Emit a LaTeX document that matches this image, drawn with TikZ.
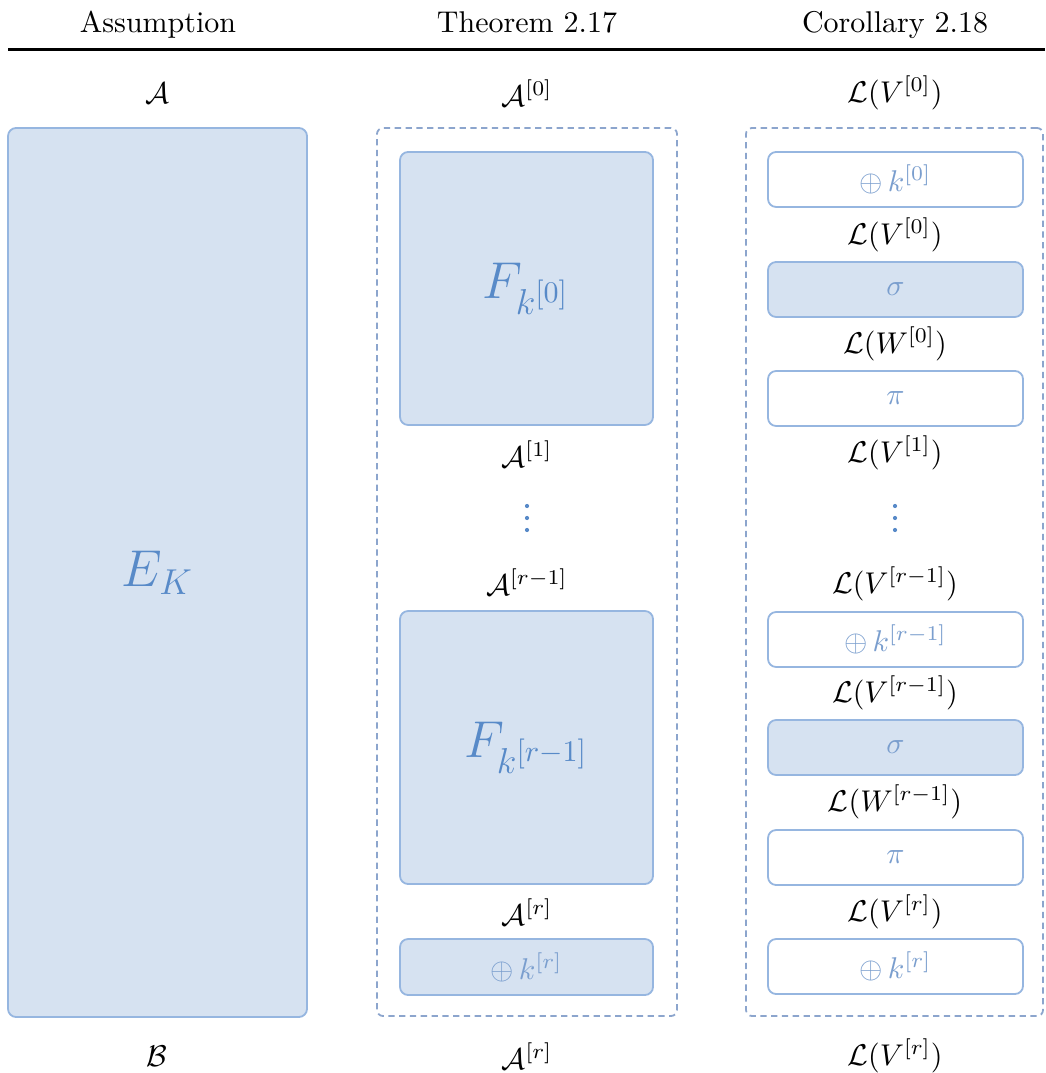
\documentclass[tikz,border=0pt]{standalone}
\usepackage{amsmath,amssymb}
\definecolor{boxfill}{RGB}{214,226,241}
\definecolor{boxline}{RGB}{150,182,224}
\definecolor{dashline}{RGB}{140,165,205}
\definecolor{txtblue}{RGB}{88,138,200}
\definecolor{txtlight}{RGB}{122,158,206}
\def\pxu{0.33333pt}
\begin{document}
\begin{tikzpicture}[x=0.33333pt,y=-0.33333pt,
  fbox/.style={draw=boxline, fill=boxfill, line width=0.6pt, rounded corners=2.7pt, inner sep=0pt, text=txtblue},
  wbox/.style={draw=boxline, fill=white, line width=0.6pt, rounded corners=2.7pt, inner sep=0pt, text=txtlight},
  sbox/.style={fbox, text=txtlight},
  dbox/.style={draw=dashline, dash pattern=on 2.1pt off 1.5pt, line width=0.6pt, rounded corners=2pt, inner sep=0pt},
  lab/.style={inner sep=0pt, text=black},
  hdr/.style={anchor=base, inner sep=0pt},
  dotc/.style={circle, fill=txtblue, inner sep=0pt, minimum size=4.2*\pxu}]
\useasboundingbox (0,0) rectangle (1045,1073);

% headers
\node[hdr] (h1) at (158,33) {Assumption};
\node[hdr] (h2) at (527,33) {Theorem 2.17};
\node[hdr] (h3) at (895,33) {Corollary 2.18};
\coordinate (rl) at (8,50);
\coordinate (rr) at (1045,50);
\draw[line width=1pt] (rl) -- (rr);

% top labels
\node[lab] (t1) at (157,93) {$\mathcal{A}$};
\node[lab] (t2) at (527,93) {$\mathcal{A}^{[0]}$};
\node[lab] (t3) at (895,93) {$\mathcal{L}(V^{[0]})$};

% column 1
\node[fbox, minimum width=299*\pxu, minimum height=889*\pxu] (EK) at (157.5,572.5) {\LARGE $E_K$};

% column 2
\node[dbox, minimum width=300*\pxu, minimum height=888*\pxu] (D2) at (527,572) {};
\node[fbox, minimum width=253*\pxu, minimum height=273*\pxu] (F0) at (526.5,288.5) {\LARGE $F_{k^{[0]}}$};
\node[lab] (m1) at (527,454) {$\mathcal{A}^{[1]}$};
\node[dotc] (m2a) at (527,506) {};
\node[dotc] (m2b) at (527,518) {};
\node[dotc] (m2c) at (527,530) {};
\node[lab] (m3) at (527,582) {$\mathcal{A}^{[r-1]}$};
\node[fbox, minimum width=253*\pxu, minimum height=273*\pxu] (F1) at (526.5,747.5) {\LARGE $F_{k^{[r-1]}}$};
\node[lab] (m4) at (527,912) {$\mathcal{A}^{[r]}$};
\node[sbox, minimum width=253*\pxu, minimum height=56*\pxu] (K2) at (526.5,967) {$\oplus\, k^{[r]}$};

% column 3
\node[dbox, minimum width=297*\pxu, minimum height=888*\pxu] (D3) at (894.5,572) {};
\node[wbox, minimum width=255*\pxu, minimum height=55*\pxu] (b1) at (895.5,179.5) {$\oplus\, k^{[0]}$};
\node[lab] (r1) at (895,234.5) {$\mathcal{L}(V^{[0]})$};
\node[sbox, minimum width=255*\pxu, minimum height=55*\pxu] (b2) at (895.5,289.5) {$\sigma$};
\node[lab] (r2) at (895,344) {$\mathcal{L}(W^{[0]})$};
\node[wbox, minimum width=255*\pxu, minimum height=55*\pxu] (b3) at (895.5,398.5) {$\pi$};
\node[lab] (r3) at (895,453) {$\mathcal{L}(V^{[1]})$};
\node[dotc] (r4a) at (895,506) {};
\node[dotc] (r4b) at (895,518) {};
\node[dotc] (r4c) at (895,530) {};
\node[lab] (r5) at (895,584) {$\mathcal{L}(V^{[r-1]})$};
\node[wbox, minimum width=255*\pxu, minimum height=55*\pxu] (b4) at (895.5,639.5) {$\oplus\, k^{[r-1]}$};
\node[lab] (r6) at (895,693) {$\mathcal{L}(V^{[r-1]})$};
\node[sbox, minimum width=255*\pxu, minimum height=55*\pxu] (b5) at (895.5,747.5) {$\sigma$};
\node[lab] (r7) at (895,802) {$\mathcal{L}(W^{[r-1]})$};
\node[wbox, minimum width=255*\pxu, minimum height=55*\pxu] (b6) at (895.5,857.5) {$\pi$};
\node[lab] (r8) at (895,912) {$\mathcal{L}(V^{[r]})$};
\node[wbox, minimum width=255*\pxu, minimum height=55*\pxu] (b7) at (895.5,966.5) {$\oplus\, k^{[r]}$};

% bottom labels
\node[lab] (e1) at (157,1056) {$\mathcal{B}$};
\node[lab] (e2) at (527,1056) {$\mathcal{A}^{[r]}$};
\node[lab] (e3) at (895,1056) {$\mathcal{L}(V^{[r]})$};
\end{tikzpicture}
\end{document}
